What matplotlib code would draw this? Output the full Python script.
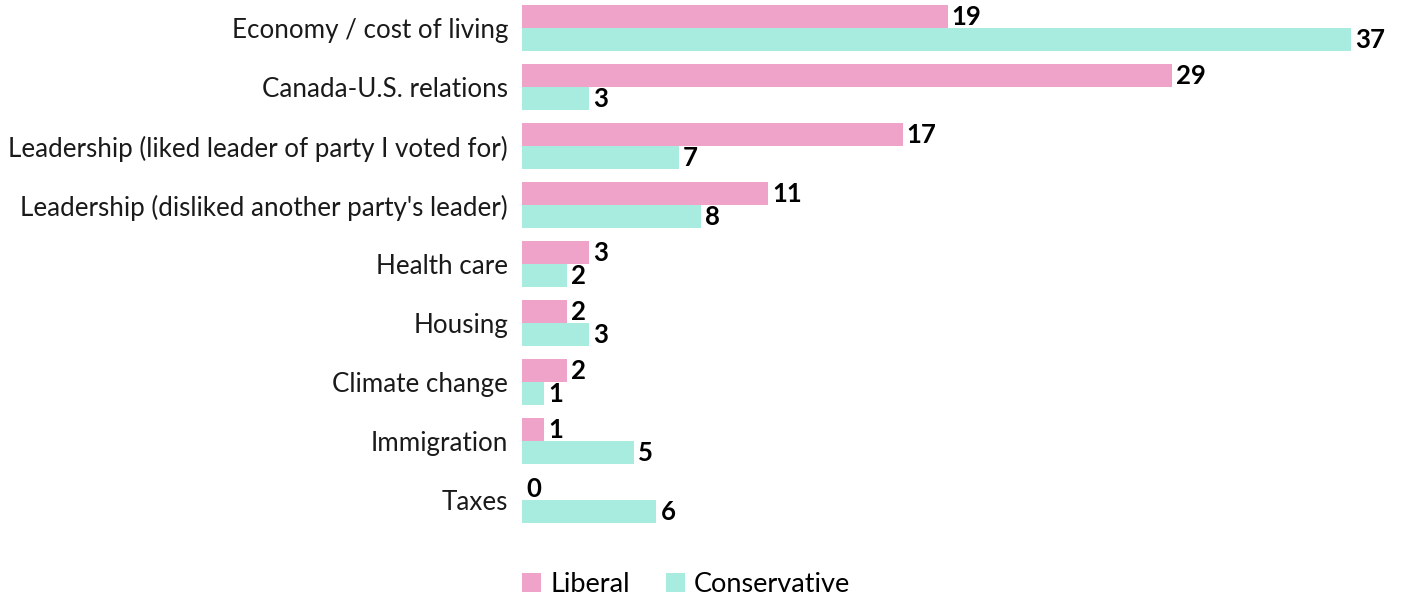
import matplotlib
matplotlib.use("Agg")
import matplotlib.pyplot as plt
import numpy as np

categories = [
    "Economy / cost of living",
    "Canada-U.S. relations",
    "Leadership (liked leader of party I voted for)",
    "Leadership (disliked another party's leader)",
    "Health care",
    "Housing",
    "Climate change",
    "Immigration",
    "Taxes",
]
liberal = [19, 29, 17, 11, 3, 2, 2, 1, 0]
conservative = [37, 3, 7, 8, 2, 3, 1, 5, 6]
series_names = ["Liberal", "Conservative"]
colors = ["#F0A3C8", "#A8EBDF"]

plt.rcParams['font.family'] = ['Lato', 'DejaVu Sans']

W, H = 1401, 598
fig = plt.figure(figsize=(W / 100, H / 100), dpi=100)
ax = fig.add_axes([522 / W, 53 / H, (W - 522) / W, 545 / H])

y = np.arange(len(categories))
h = 0.39
ax.barh(y - h / 2, liberal, height=h, color=colors[0], label=series_names[0])
ax.barh(y + h / 2, conservative, height=h, color=colors[1], label=series_names[1])

for yi, v in zip(y - h / 2, liberal):
    ax.text(v + 0.18, yi, str(v), va='center', ha='left', fontsize=18.5, fontweight='bold')
for yi, v in zip(y + h / 2, conservative):
    ax.text(v + 0.18, yi, str(v), va='center', ha='left', fontsize=18.5, fontweight='bold')

ax.set_yticks(y)
ax.set_yticklabels(categories, fontsize=18.7, color='#1a1a1a')
ax.tick_params(axis='y', length=0, pad=10)
ax.set_xticks([])
ax.set_xlim(0, (W - 522) / 22.4)
ax.set_ylim(8.76, -0.475)
for s in ax.spines.values():
    s.set_visible(False)

fig.legend(loc='center left', bbox_to_anchor=(498 / W, 1 - 584 / H), ncol=2, frameon=False,
           fontsize=19.5, handlelength=0.7, handleheight=0.7, handletextpad=0.35, columnspacing=1.3)

plt.savefig('out.png', dpi=100)
